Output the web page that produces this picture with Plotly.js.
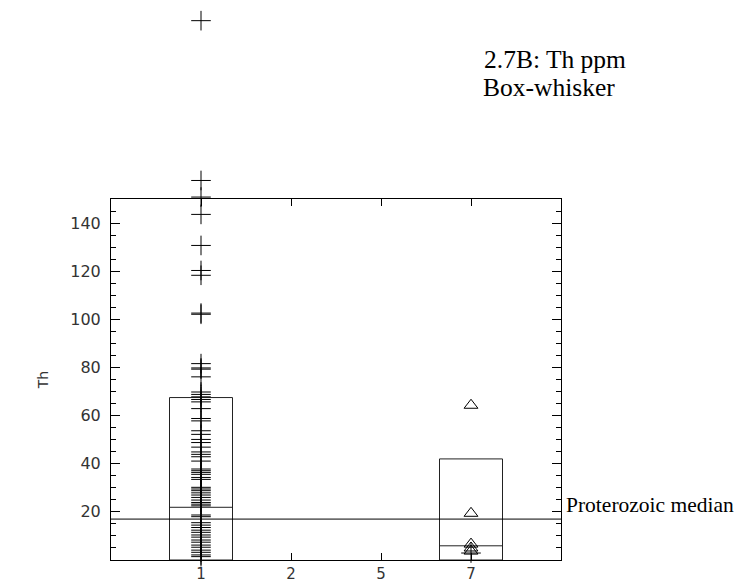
<!DOCTYPE html>
<html>
<head>
<meta charset="utf-8">
<script src="https://cdn.plot.ly/plotly-3.0.1.min.js"></script>
<style>html,body{margin:0;padding:0;background:#fff;}</style>
</head>
<body>
<div id="chart" style="width:736px;height:583px;"></div>
<script>
// Categories (group codes) and their axis positions
var categories = ['1', '2', '5', '7'];
var catPositions = [1, 2, 3, 4];

// Group 1 Th values (plotted as crosses)
var group1Values = [224.1, 157.7, 150.8, 143.6, 130.7, 120.3, 118.3, 102.6, 102.1,
  81.6, 79.8, 79.3, 76.1, 69.8, 68.8, 67.8, 66.7, 65.7, 62.9, 58.8, 57.8, 53.7,
  52.2, 50.1, 48.8, 46.9, 44.9, 43.9, 42.9, 41.1, 37.8, 37.1, 36.4, 35.6, 34.3,
  33.5, 30.2, 29.5, 28.8, 27.9, 27.0, 26.0, 24.9, 23.9, 23.2, 22.5, 18.7, 18.0,
  15.5, 14.5, 13.5, 12.4, 11.5, 10.4, 9.5, 8.3, 7.4, 6.2, 5.3, 4.1, 3.2, 2.1, 1.4];

// Group 7 Th values (triangles) and one cross
var group7Triangles = [64.3, 19.4, 6.6, 5.0, 3.7];
var group7Crosses = [2.9];

// Box statistics per group (only groups 1 and 7 have boxes)
var boxGroups = ['1', '7'];
var boxLow = [0, 0];
var boxHigh = [67.5, 42.0];
var boxMedian = [21.9, 5.9];

// Reference line
var proterozoicMedian = 17;

// Axis range
var yMax = 150;

var W = 736, H = 583;
var mL = 111, mR = 175, mT = 5, mB = 23;
var plotTopPx = 199;                       // top of the framed plot
var paperH = H - mT - mB;                  // full paper height
var mainH = H - mB - plotTopPx;            // framed plot height
var mainDomainTop = mainH / paperH;
var y2Max = yMax * paperH / mainH;         // same scale, taller axis for outliers

var boxHalf = 0.35;
function posOf(cat) { return catPositions[categories.indexOf(cat)]; }

var rectX = [], rectY = [], medX = [], medY = [];
boxGroups.forEach(function (g, i) {
  var p = posOf(g);
  rectX.push(p - boxHalf, p + boxHalf, p + boxHalf, p - boxHalf, p - boxHalf, null);
  rectY.push(boxLow[i], boxLow[i], boxHigh[i], boxHigh[i], boxLow[i], null);
  medX.push(p - boxHalf, p + boxHalf, null);
  medY.push(boxMedian[i], boxMedian[i], null);
});

var traces = [
  {
    x: rectX, y: rectY, mode: 'lines', type: 'scatter',
    line: {color: '#222', width: 1}, hoverinfo: 'skip', showlegend: false
  },
  {
    x: medX, y: medY, mode: 'lines', type: 'scatter',
    line: {color: '#222', width: 1}, hoverinfo: 'skip', showlegend: false
  },
  {
    x: [0, 5], y: [proterozoicMedian, proterozoicMedian], mode: 'lines', type: 'scatter',
    line: {color: '#000', width: 1}, showlegend: false, hoverinfo: 'skip'
  },
  {
    x: group1Values.map(function () { return posOf('1'); }), y: group1Values,
    yaxis: 'y2',
    mode: 'markers', type: 'scatter', cliponaxis: false,
    marker: {symbol: 'cross-thin-open', size: 14, color: '#000', line: {color: '#000', width: 1}},
    showlegend: false
  },
  {
    x: group7Triangles.map(function () { return posOf('7'); }), y: group7Triangles,
    yaxis: 'y2',
    mode: 'markers', type: 'scatter', cliponaxis: false,
    marker: {symbol: 'triangle-up-open', size: 12, color: '#000', line: {color: '#000', width: 1}},
    showlegend: false
  },
  {
    x: group7Crosses.map(function () { return posOf('7'); }), y: group7Crosses,
    yaxis: 'y2',
    mode: 'markers', type: 'scatter', cliponaxis: false,
    marker: {symbol: 'cross-thin-open', size: 14, color: '#000', line: {color: '#000', width: 1}},
    showlegend: false
  }
];

var tickFont = {family: 'DejaVu Sans', size: 15, color: '#333'};
var minorVals = [];
for (var v = 5; v < yMax; v += 5) { if (v % 20 !== 0) minorVals.push(v); }

function yPaper(px) { return (H - mB - px) / paperH; }

var layout = {
  width: W, height: H,
  margin: {l: mL, r: mR, t: mT, b: mB},
  paper_bgcolor: '#fff', plot_bgcolor: 'rgba(0,0,0,0)',
  showlegend: false,
  title: {
    text: '2.7B: Th ppm',
    font: {family: 'Liberation Serif', size: 25.5, color: '#000'},
    x: 484 / W, xref: 'container', xanchor: 'left',
    y: 1 - 59 / H, yref: 'container', yanchor: 'middle'
  },
  xaxis: {
    range: [0, 5],
    tickvals: catPositions, ticktext: categories,
    ticks: 'inside', ticklen: 7, tickwidth: 1, tickcolor: '#000',
    showline: true, linecolor: '#000', linewidth: 1, mirror: 'ticks',
    showgrid: false, zeroline: false,
    tickfont: tickFont, ticklabelstandoff: 0
  },
  yaxis: {
    domain: [0, mainDomainTop],
    range: [0, yMax],
    tickvals: [20, 40, 60, 80, 100, 120, 140],
    ticks: 'inside', ticklen: 9, tickwidth: 1, tickcolor: '#000',
    minor: {tickvals: minorVals, ticks: 'inside', ticklen: 5, tickcolor: '#000', showgrid: false},
    showline: true, linecolor: '#000', linewidth: 1, mirror: 'ticks',
    showgrid: false, zeroline: false,
    tickfont: {family: 'DejaVu Sans', size: 16, color: '#333'}, ticklabelstandoff: 6,
    title: {text: 'Th', font: {family: 'DejaVu Sans', size: 14, color: '#333'}, standoff: 18}
  },
  yaxis2: {
    domain: [0, 1],
    range: [0, y2Max],
    anchor: 'x',
    visible: false, showgrid: false, zeroline: false, fixedrange: true
  },
  annotations: [
    {
      text: 'Box-whisker', showarrow: false,
      xref: 'paper', yref: 'paper', x: (482 - mL) / (W - mL - mR), y: yPaper(87),
      xanchor: 'left', yanchor: 'middle', borderpad: 0,
      font: {family: 'Liberation Serif', size: 25.5, color: '#000'}
    },
    {
      text: 'Proterozoic median', showarrow: false,
      xref: 'paper', yref: 'y', x: 1, y: proterozoicMedian, xshift: 3, yshift: 14,
      xanchor: 'left', yanchor: 'middle',
      font: {family: 'Liberation Serif', size: 21.5, color: '#000'}
    }
  ]
};

Plotly.newPlot('chart', traces, layout, {displayModeBar: false, staticPlot: true});
</script>
</body>
</html>
